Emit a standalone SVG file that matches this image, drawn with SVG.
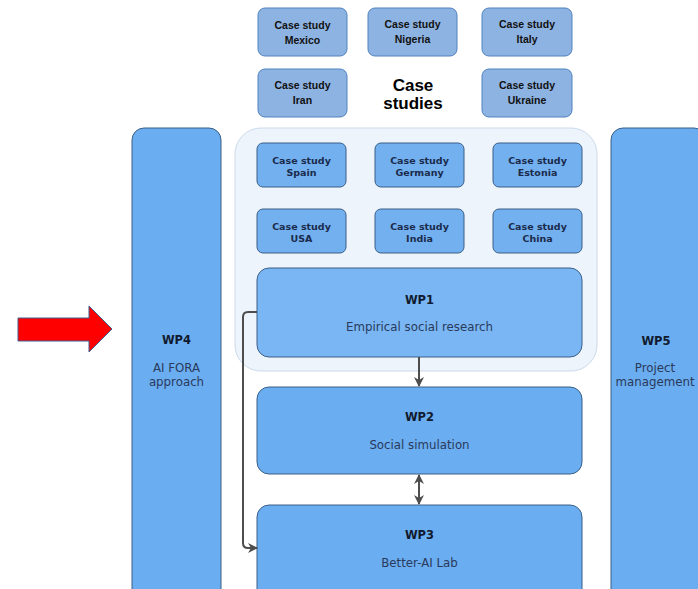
<svg xmlns="http://www.w3.org/2000/svg" width="698" height="589" viewBox="0 0 698 589">
<defs>
<style>
.top{fill:#8DB3E2;stroke:#4F81BD;stroke-width:1}
.topt{font-family:"Liberation Sans",Arial,sans-serif;font-weight:bold;font-size:10.5px;fill:#111;text-anchor:middle}
.cs{fill:#72B0F0;stroke:#3B5F86;stroke-width:1}
.cst{font-family:"DejaVu Sans",Verdana,sans-serif;font-weight:bold;font-size:9.5px;fill:#1B2B4B;text-anchor:middle}
.wp{fill:#6AADF0;stroke:#3B5F86;stroke-width:1}
.wpt{font-family:"DejaVu Sans",Verdana,sans-serif;font-weight:bold;font-size:11.5px;fill:#111A2E;text-anchor:middle}
.wps{font-family:"DejaVu Sans",Verdana,sans-serif;font-size:11.8px;fill:#2A3A5C;text-anchor:middle}
.con{fill:none;stroke:#4D4D4D;stroke-width:2}
</style>
<marker id="ah2" viewBox="0 0 10 10" refX="9" refY="5" markerWidth="10" markerHeight="10" orient="auto-start-reverse" markerUnits="userSpaceOnUse">
<path d="M0,0 L10,5 L0,10 L3,5 Z" fill="#4D4D4D"/>
</marker>
</defs>
<rect width="698" height="589" fill="#fff"/>

<g id="cs-mexico"><rect class="top" x="258" y="8" width="89" height="48" rx="7"/><text class="topt" x="302.5" y="29">Case study</text><text class="topt" x="302.5" y="44">Mexico</text></g>
<g id="cs-nigeria"><rect class="top" x="368" y="8" width="89" height="48" rx="7"/><text class="topt" x="412.5" y="28">Case study</text><text class="topt" x="412.5" y="43">Nigeria</text></g>
<g id="cs-italy"><rect class="top" x="482" y="8" width="90" height="48" rx="7"/><text class="topt" x="527" y="28">Case study</text><text class="topt" x="527" y="43">Italy</text></g>
<g id="cs-iran"><rect class="top" x="258" y="69" width="89" height="48" rx="7"/><text class="topt" x="302.5" y="89">Case study</text><text class="topt" x="302.5" y="104">Iran</text></g>
<g id="cs-ukraine"><rect class="top" x="482" y="69" width="90" height="48" rx="7"/><text class="topt" x="527" y="89">Case study</text><text class="topt" x="527" y="104">Ukraine</text></g>
<g id="case-studies-label"><text x="413" y="91" font-family="Liberation Sans,Arial,sans-serif" font-weight="bold" font-size="17" text-anchor="middle" fill="#000">Case</text><text x="413" y="109" font-family="Liberation Sans,Arial,sans-serif" font-weight="bold" font-size="17" text-anchor="middle" fill="#000">studies</text></g>

<g id="wp4"><rect class="wp" x="132" y="128" width="89" height="475" rx="12"/><text class="wpt" x="176.5" y="344">WP4</text><text class="wps" x="176.5" y="372">AI FORA</text><text class="wps" x="176.5" y="386">approach</text></g>
<g id="wp5"><rect class="wp" x="611" y="128" width="95" height="475" rx="12"/><text class="wpt" x="656" y="345">WP5</text><text class="wps" x="655" y="372">Project</text><text class="wps" x="655" y="386">management</text></g>

<g id="container"><rect x="235" y="128" width="362" height="243" rx="26" fill="#EEF4FC" stroke="#CCDAEA" stroke-width="1"/></g>

<g id="cs-spain"><rect class="cs" x="257" y="143" width="89" height="44" rx="6"/><text class="cst" x="301.5" y="164">Case study</text><text class="cst" x="301.5" y="176">Spain</text></g>
<g id="cs-germany"><rect class="cs" x="375" y="143" width="89" height="44" rx="6"/><text class="cst" x="419.5" y="164">Case study</text><text class="cst" x="419.5" y="176">Germany</text></g>
<g id="cs-estonia"><rect class="cs" x="493" y="143" width="89" height="44" rx="6"/><text class="cst" x="537.5" y="164">Case study</text><text class="cst" x="537.5" y="176">Estonia</text></g>
<g id="cs-usa"><rect class="cs" x="257" y="209" width="89" height="44" rx="6"/><text class="cst" x="301.5" y="230">Case study</text><text class="cst" x="301.5" y="242">USA</text></g>
<g id="cs-india"><rect class="cs" x="375" y="209" width="89" height="44" rx="6"/><text class="cst" x="419.5" y="230">Case study</text><text class="cst" x="419.5" y="242">India</text></g>
<g id="cs-china"><rect class="cs" x="493" y="209" width="89" height="44" rx="6"/><text class="cst" x="537.5" y="230">Case study</text><text class="cst" x="537.5" y="242">China</text></g>

<g id="wp1"><rect x="257" y="268" width="325" height="89" rx="12" fill="#79B6F3" stroke="#3B5F86" stroke-width="1"/><text class="wpt" x="419.5" y="304">WP1</text><text class="wps" x="419.5" y="331">Empirical social research</text></g>
<g id="wp2"><rect class="wp" x="257" y="387" width="325" height="87" rx="12"/><text class="wpt" x="419.5" y="421">WP2</text><text class="wps" x="419.5" y="449">Social simulation</text></g>
<g id="wp3"><rect class="wp" x="257" y="505" width="325" height="100" rx="12"/><text class="wpt" x="419.5" y="539">WP3</text><text class="wps" x="419.5" y="567">Better-AI Lab</text></g>

<g id="connectors">
<path class="con" d="M419,357 V386" marker-end="url(#ah2)"/>
<path class="con" d="M419,475 V504" marker-start="url(#ah2)" marker-end="url(#ah2)"/>
<path class="con" d="M257,312 H248 Q243,312 243,317 V543 Q243,548 248,548 H257" marker-end="url(#ah2)"/>
</g>

<g id="red-arrow"><polygon points="18,318 89,318 89,306 112,329 89,352 89,341 18,341" fill="#FF0000" stroke="#3F5F8F" stroke-width="1"/></g>
</svg>
